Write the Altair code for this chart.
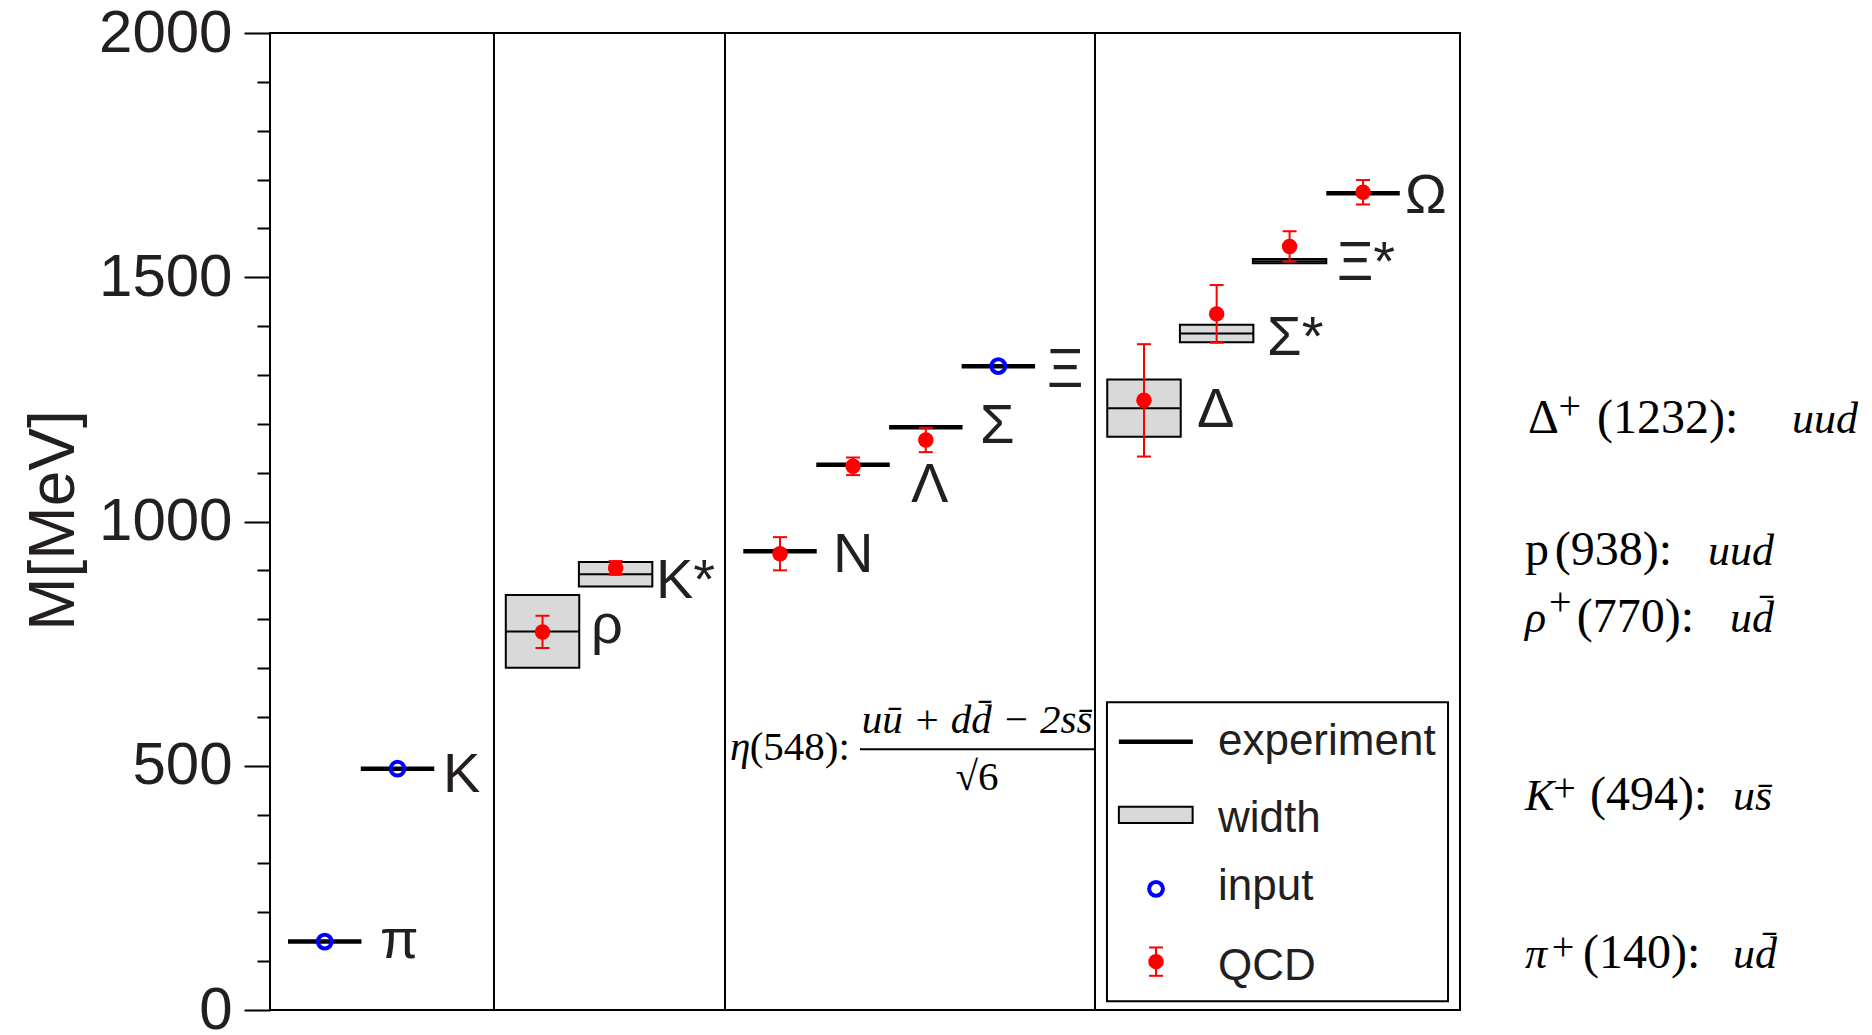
import altair as alt
import pandas as pd

# ---------------- data ----------------
names = ["π", "K", "ρ", "K*", "N", "Λ", "Σ", "Ξ", "Δ", "Σ*", "Ξ*", "Ω"]
slot = [0.745, 1.736, 3.71, 4.705, 6.943, 7.937, 8.928, 9.915, 11.898, 12.887, 13.88, 14.88]
exp_mass = [140, 494, 775, 892, 939, 1116, 1193, 1318, 1232, 1385, 1533, 1672]
exp_width = [0, 0, 149, 50, 0, 0, 0, 0, 117, 36, 9, 0]
label_x = [1.497, 2.355, 4.37, 5.255, 7.664, 8.726, 9.666, 10.578, 12.62, 13.573, 14.525, 15.451]
label_y = [106, 446, 751, 843, 897, 1040, 1161, 1276, 1194, 1341, 1494, 1631]

input_names = ["π", "K", "Ξ"]
input_mass = [140, 494, 1318]

qcd_names = ["ρ", "K*", "N", "Λ", "Σ", "Δ", "Σ*", "Ξ*", "Ω"]
qcd_mass = [774, 905, 934, 1113, 1167, 1248, 1425, 1563, 1674]
qcd_err = [33, 14, 34, 18, 25, 115, 59, 31, 25]

dividers = [3.049, 6.194, 11.231]
y_ticks = list(range(0, 2001, 100))

legend_labels = ["experiment", "width", "input", "QCD"]

# right-hand annotations (serif), split into upright / italic / superscript pieces
up_text = ["Δ", "(1232):", "p", "(938):", "(770):", "(494):", "(140):"]
up_x = [17.126, 18.065, 17.085, 17.49, 17.79, 17.97, 17.874]
up_y = [1181, 1181, 911, 911, 774, 409, 86]
it_text = ["uud", "uud", "ρ", "ud\u0304", "K", "us\u0304", "π", "ud\u0304"]
it_x = [20.72, 19.577, 17.085, 19.876, 17.085, 19.917, 17.085, 19.917]
it_y = [1181, 911, 774, 774, 409, 409, 86, 86]
sup_text = ["+", "+", "+", "+"]
sup_x = [17.54, 17.41, 17.47, 17.45]
sup_y = [1210, 809, 428, 102]

# eta annotation
eta_it_text = ["η", "u\u016b + dd\u0304 − 2ss\u0304"]
eta_it_x = [6.262, 9.625]
eta_it_y = [512, 567]
eta_it_align = ["left", "center"]
eta_up_text = ["(548):", "√6"]
eta_up_x = [6.53, 9.625]
eta_up_y = [512, 450]
eta_up_align = ["left", "center"]
frac_x = [8.032]
frac_x2 = [11.231]
frac_y = [534]

# ---------------- frames ----------------
exp_df = pd.DataFrame({"name": names, "c": slot, "mass": exp_mass, "w": exp_width})
exp_df["x0"] = exp_df["c"] - 0.5
exp_df["x1"] = exp_df["c"] + 0.5
exp_df["lo"] = exp_df["mass"] - exp_df["w"] / 2
exp_df["hi"] = exp_df["mass"] + exp_df["w"] / 2

lab_df = pd.DataFrame({"name": names, "x": label_x, "y": label_y})

inp_df = pd.DataFrame({"name": input_names, "mass": input_mass})
inp_df["c"] = inp_df["name"].map(dict(zip(names, slot)))

qcd_df = pd.DataFrame({"name": qcd_names, "mass": qcd_mass, "err": qcd_err})
qcd_df["c"] = qcd_df["name"].map(dict(zip(names, slot)))
qcd_df["lo"] = qcd_df["mass"] - qcd_df["err"]
qcd_df["hi"] = qcd_df["mass"] + qcd_df["err"]

YSCALE = alt.Scale(domain=[0, 2000], nice=False, zero=False)
XSCALE = alt.Scale(domain=[0, 16.2], nice=False, zero=False)
YAXIS = alt.Axis(
    values=y_ticks,
    format="d",
    labelExpr="datum.value % 500 === 0 ? datum.label : ''",
    tickSize={"condition": {"test": "datum.value % 500 === 0", "value": 26}, "value": 13},
    tickWidth=2,
    tickColor="black",
    labelPadding=12,
    labelFont="Liberation Sans",
    labelFontSize=60,
    labelColor="#231f20",
    labelOverlap=False,
    labelFlush=False,
    domain=False,
    grid=False,
    title="M[MeV]",
    titleFont="Liberation Sans",
    titleFontSize=64,
    titleFontWeight="normal",
    titleColor="#231f20",
    titleAngle=270,
    titleX=-197,
    titleY=487,
    titleAlign="center",
    titleBaseline="alphabetic",
)


def X(f):
    return alt.X(f"{f}:Q", scale=XSCALE, axis=None)


def Y(f):
    return alt.Y(f"{f}:Q", scale=YSCALE, axis=YAXIS)


SERIF = "Liberation Serif"

div_layer = alt.Chart(pd.DataFrame({"x": dividers})).mark_rule(
    color="black", strokeWidth=2
).encode(x=X("x"))

box_layer = alt.Chart(exp_df).transform_filter("datum.w > 0").mark_rect(
    fill="#d9d9d9", stroke="black", strokeWidth=2
).encode(x=X("x0"), x2="x1", y=Y("lo"), y2="hi")

mid_layer = alt.Chart(exp_df).transform_filter("datum.w > 0").mark_rule(
    color="black", strokeWidth=2
).encode(x=X("x0"), x2="x1", y=Y("mass"))

line_layer = alt.Chart(exp_df).transform_filter("datum.w == 0").mark_rule(
    color="black", strokeWidth=4.5
).encode(x=X("x0"), x2="x1", y=Y("mass"))

err_layer = alt.Chart(qcd_df).mark_rule(color="red", strokeWidth=2).encode(
    x=X("c"), y=Y("lo"), y2="hi"
)
cap_lo = alt.Chart(qcd_df).mark_tick(
    orient="horizontal", size=14, thickness=2, color="red", opacity=1
).encode(x=X("c"), y=Y("lo"))
cap_hi = alt.Chart(qcd_df).mark_tick(
    orient="horizontal", size=14, thickness=2, color="red", opacity=1
).encode(x=X("c"), y=Y("hi"))
dot_layer = alt.Chart(qcd_df).mark_circle(size=240, color="red", opacity=1).encode(
    x=X("c"), y=Y("mass")
)
inp_layer = alt.Chart(inp_df).mark_point(
    shape="circle", filled=False, stroke="blue", strokeWidth=4, size=190, opacity=1
).encode(x=X("c"), y=Y("mass"))

lab_layer = alt.Chart(lab_df).mark_text(
    font="Liberation Sans", fontSize=56, align="left", baseline="alphabetic", color="#231f20"
).encode(x=X("x"), y=Y("y"), text="name:N")

# eta annotation
eta_it_df = pd.DataFrame({"t": eta_it_text, "x": eta_it_x, "y": eta_it_y, "a": eta_it_align})
eta_up_df = pd.DataFrame({"t": eta_up_text, "x": eta_up_x, "y": eta_up_y, "a": eta_up_align})
eta_layers = []
for df, style in [(eta_it_df, "italic"), (eta_up_df, "normal")]:
    for a in ["left", "center"]:
        sub = df[df["a"] == a]
        eta_layers.append(
            alt.Chart(sub).mark_text(
                font=SERIF, fontSize=41, fontStyle=style, align=a,
                baseline="alphabetic", color="black"
            ).encode(x=X("x"), y=Y("y"), text="t:N")
        )
frac_layer = alt.Chart(pd.DataFrame({"x": frac_x, "x2": frac_x2, "y": frac_y})).mark_rule(
    color="black", strokeWidth=2
).encode(x=X("x"), x2="x2", y=Y("y"))

# right side annotations
up_layer = alt.Chart(pd.DataFrame({"t": up_text, "x": up_x, "y": up_y})).mark_text(
    font=SERIF, fontSize=48, align="left", baseline="alphabetic", color="black"
).encode(x=X("x"), y=Y("y"), text="t:N")
it_layer = alt.Chart(pd.DataFrame({"t": it_text, "x": it_x, "y": it_y})).mark_text(
    font=SERIF, fontSize=44, fontStyle="italic", align="left",
    baseline="alphabetic", color="black"
).encode(x=X("x"), y=Y("y"), text="t:N")
sup_layer = alt.Chart(pd.DataFrame({"t": sup_text, "x": sup_x, "y": sup_y})).mark_text(
    font=SERIF, fontSize=40, align="left", baseline="alphabetic", color="black"
).encode(x=X("x"), y=Y("y"), text="t:N")

# legend (inside the plot, lower right)
leg_frame = alt.Chart(pd.DataFrame({"x": [11.394], "x2": [16.037], "y": [18], "y2": [630]})).mark_rect(
    fill="white", stroke="black", strokeWidth=2
).encode(x=X("x"), x2="x2", y=Y("y"), y2="y2")
leg_line = alt.Chart(pd.DataFrame({"x": [11.556], "x2": [12.563], "y": [549]})).mark_rule(
    color="black", strokeWidth=4.5
).encode(x=X("x"), x2="x2", y=Y("y"))
leg_box = alt.Chart(pd.DataFrame({"x": [11.556], "x2": [12.56], "y": [383], "y2": [416]})).mark_rect(
    fill="#d9d9d9", stroke="black", strokeWidth=2
).encode(x=X("x"), x2="x2", y=Y("y"), y2="y2")
leg_inp = alt.Chart(pd.DataFrame({"x": [12.062], "y": [248]})).mark_point(
    shape="circle", filled=False, stroke="blue", strokeWidth=4, size=190, opacity=1
).encode(x=X("x"), y=Y("y"))
leg_qcd = pd.DataFrame({"x": [12.062], "y": [99], "lo": [70], "hi": [128]})
leg_err = alt.Chart(leg_qcd).mark_rule(color="red", strokeWidth=2).encode(
    x=X("x"), y=Y("lo"), y2="hi"
)
leg_cap1 = alt.Chart(leg_qcd).mark_tick(orient="horizontal", size=14, thickness=2, color="red", opacity=1).encode(
    x=X("x"), y=Y("lo")
)
leg_cap2 = alt.Chart(leg_qcd).mark_tick(orient="horizontal", size=14, thickness=2, color="red", opacity=1).encode(
    x=X("x"), y=Y("hi")
)
leg_dot = alt.Chart(leg_qcd).mark_circle(size=240, color="red", opacity=1).encode(
    x=X("x"), y=Y("y")
)
leg_text = alt.Chart(
    pd.DataFrame({"t": legend_labels, "x": [12.905] * 4, "y": [522, 365, 225, 61]})
).mark_text(
    font="Liberation Sans", fontSize=44, align="left", baseline="alphabetic", color="#231f20"
).encode(x=X("x"), y=Y("y"), text="t:N")

chart = alt.layer(
    div_layer, box_layer, mid_layer, line_layer, err_layer, cap_lo, cap_hi, dot_layer,
    inp_layer, lab_layer, *eta_layers, frac_layer, up_layer, it_layer, sup_layer,
    leg_frame, leg_line, leg_box, leg_inp, leg_err, leg_cap1, leg_cap2, leg_dot, leg_text,
).properties(
    width=1190,
    height=977,
    autosize="none",
    padding={"left": 270, "top": 33, "right": 412, "bottom": 25},
    background="white",
).configure_view(stroke="black", strokeWidth=2)

chart.save("out.html", embed_options={"renderer": "svg", "actions": False})
